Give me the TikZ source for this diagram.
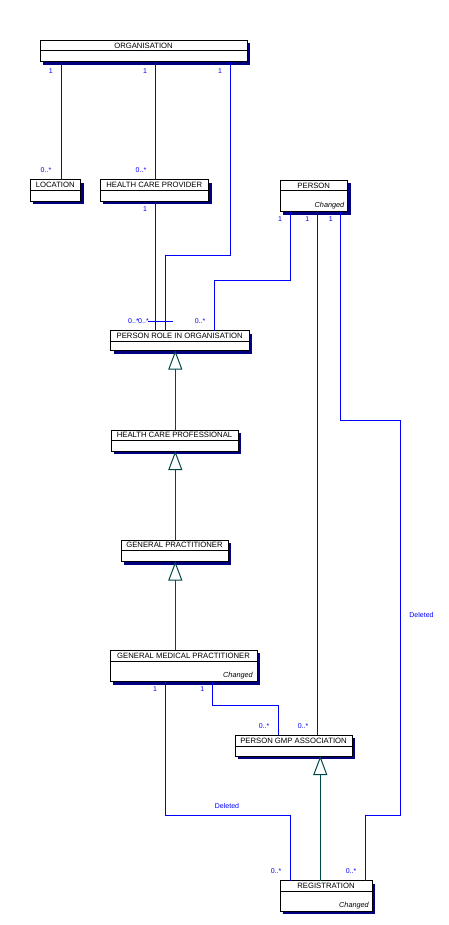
\documentclass[tikz,border=0pt]{standalone}
\usepackage{fontspec}
\setmainfont{Liberation Sans}
\usetikzlibrary{arrows.meta}
\definecolor{umlblue}{RGB}{0,0,255}
\definecolor{umlteal}{RGB}{0,72,72}
\definecolor{umlshadow}{RGB}{0,0,128}
\tikzset{
 classbox/.style={draw=black, fill=white, line width=1pt, inner sep=0pt, outer sep=0pt, anchor=north west},
 boxshadow/.style={fill=umlshadow},
 titletext/.style={font=\fontsize{7.7}{9}\selectfont, inner sep=0pt, text=black},
 changedtext/.style={font=\fontsize{7.3}{9}\selectfont\itshape, inner sep=0pt, anchor=east},
 conn/.style={draw=umlblue, line width=1pt},
 inh/.style={draw=umlteal, line width=1pt, -{Triangle[open, width=14pt, length=19pt, fill=white]}},
 mult/.style={font=\fontsize{7}{8}\selectfont, text=umlblue, inner sep=0pt},
}
\newcommand{\umlclass}[7]{%
  \fill[boxshadow] ({#2+3},{#3+3}) rectangle ({#4+3},{#5+3});
  \node[classbox, minimum width={#4-#2}, minimum height={#5-#3}] (#1) at (#2,#3) {};
  \draw[line width=1pt] (#2,#6) -- (#4,#6);
  \node[titletext] (#1-title) at ({(#2+#4)/2},{(#3+#6)/2}) {#7};
}
\begin{document}
\begin{tikzpicture}[x=1pt,y=-1pt]
\useasboundingbox (0,0) rectangle (449,925);
% classes
\umlclass{org}{40}{40.5}{247}{62}{51}{ORGANISATION}
\umlclass{loc}{30}{180}{80.5}{201.5}{190.5}{LOCATION}
\umlclass{hcprov}{100}{180}{208.5}{201.5}{190.5}{HEALTH CARE PROVIDER}
\umlclass{person}{280}{180.5}{347.5}{212}{190.5}{PERSON}
\umlclass{prio}{110.5}{330.5}{249}{350.5}{341.5}{PERSON ROLE IN ORGANISATION}
\umlclass{hcprof}{111}{430}{238}{451}{440.5}{HEALTH CARE PROFESSIONAL}
\umlclass{gp}{121}{540}{228}{561.5}{550.5}{GENERAL PRACTITIONER}
\umlclass{gmp}{110}{650}{257}{681.5}{661}{GENERAL MEDICAL PRACTITIONER}
\umlclass{pga}{235}{735}{352}{756}{746}{PERSON GMP ASSOCIATION}
\umlclass{reg}{280}{880.5}{372}{911}{891}{REGISTRATION}
\node[changedtext, xshift=-3pt, yshift=6pt] (person-ch) at (person.south east) {Changed};
\node[changedtext, xshift=-4pt, yshift=6pt] (gmp-ch) at (gmp.south east) {Changed};
\node[changedtext, xshift=-3pt, yshift=5pt] (reg-ch) at (reg.south east) {Changed};
% columns and bends
\coordinate (c61) at (61,0);
\coordinate (c155) at (155,0);
\coordinate (b1) at (230,255);
\coordinate (b2) at (165,255);
\coordinate (b3) at (290.7,280);
\coordinate (b4) at (214.3,280);
\coordinate (c317) at (317.3,0);
\coordinate (b5) at (340.3,420);
\coordinate (b6) at (400.7,420);
\coordinate (b7) at (400.7,815);
\coordinate (b8) at (365.3,815);
\coordinate (b9) at (212.3,705);
\coordinate (b10) at (278.3,705);
\coordinate (b11) at (165.3,815);
\coordinate (b12) at (290.3,815);
\coordinate (ci1) at (175.3,0);
\coordinate (ci2) at (320.3,0);
\coordinate (t1) at (148,321);
\coordinate (t2) at (172.7,321);
% associations
\draw[conn] (org.south -| c61) -- (loc.north -| c61);
\draw[conn] (org.south -| c155) -- (hcprov.north -| c155);
\draw[conn] (org.south -| b1) -- (b1) -- (b2) -- (prio.north -| b2);
\draw[conn] (hcprov.south -| c155) -- (prio.north -| c155);
\draw[conn] (t1) -- (t2);
\draw[conn] (person.south -| b3) -- (b3) -- (b4) -- (prio.north -| b4);
\draw[conn] (person.south -| c317) -- (pga.north -| c317);
\draw[conn] (person.south -| b5) -- (b5) -- (b6) -- (b7) -- (b8) -- (reg.north -| b8);
\draw[conn] (gmp.south -| b9) -- (b9) -- (b10) -- (pga.north -| b10);
\draw[conn] (gmp.south -| b11) -- (b11) -- (b12) -- (reg.north -| b12);
% generalisations
\draw[inh] (hcprof.north -| ci1) -- (prio.south -| ci1);
\draw[inh] (gp.north -| ci1) -- (hcprof.south -| ci1);
\draw[inh] (gmp.north -| ci1) -- (gp.south -| ci1);
\draw[inh] (reg.north -| ci2) -- (pga.south -| ci2);
% multiplicities
\node[mult] (m1) at (50.7,70.7) {1};
\node[mult] (m2) at (145,70.7) {1};
\node[mult] (m3) at (220,70.7) {1};
\node[mult] (m4) at (46,170) {0..*};
\node[mult] (m5) at (141,170) {0..*};
\node[mult] (m6) at (145,209.3) {1};
\node[mult] (m7) at (280,219.5) {1};
\node[mult] (m8) at (307.3,219.5) {1};
\node[mult] (m9) at (330.7,219.5) {1};
\node[mult] (m10) at (133.5,321) {0..*};
\node[mult] (m11) at (143.5,321) {0..*};
\node[mult] (m12) at (200,321) {0..*};
\node[mult] (m13) at (155,689) {1};
\node[mult] (m14) at (202.3,689) {1};
\node[mult] (m15) at (264,725.7) {0..*};
\node[mult] (m16) at (303,725.7) {0..*};
\node[mult] (m17) at (276,870.7) {0..*};
\node[mult] (m18) at (351,870.7) {0..*};
\node[mult] (d1) at (227,805.7) {Deleted};
\node[mult] (d2) at (421.5,615) {Deleted};
\end{tikzpicture}
\end{document}
